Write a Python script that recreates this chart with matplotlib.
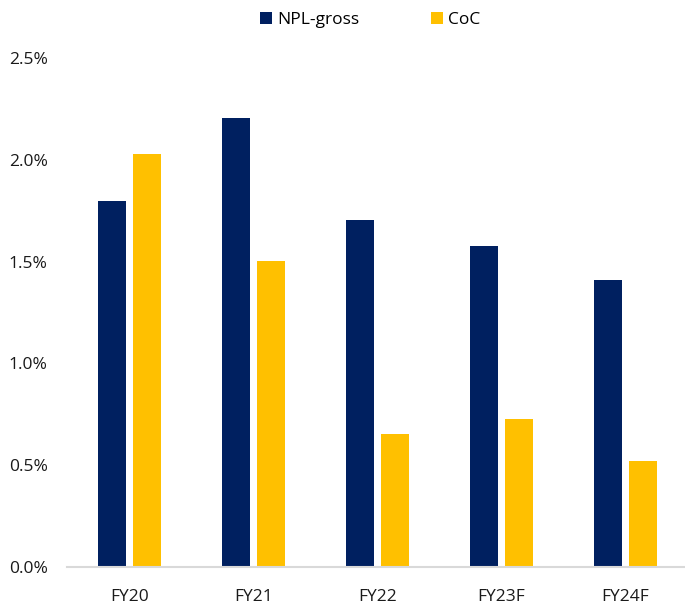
# bar chart: NPL-gross vs CoC by fiscal year
import numpy as np
import matplotlib.pyplot as plt

plt.rcParams["font.family"] = ["Open Sans", "DejaVu Sans"]

# data
years = ["FY20", "FY21", "FY22", "FY23F", "FY24F"]
npl_gross = [1.80, 2.205, 1.705, 1.575, 1.41]
coc = [2.03, 1.505, 0.655, 0.725, 0.52]
y_ticks = [0.0, 0.5, 1.0, 1.5, 2.0, 2.5]

navy = "#002060"
yellow = "#FFC000"

fig = plt.figure(figsize=(6.85, 6.06), dpi=100)
ax = fig.add_axes([0.0978, 0.0644, 0.9022, 0.8396])

x = np.arange(len(years))
w = 0.226
off = 0.141
ax.bar(x - off, npl_gross, width=w, color=navy, label="NPL-gross")
ax.bar(x + off, coc, width=w, color=yellow, label="CoC")

ax.set_xlim(-0.503, 4.48)
ax.set_ylim(0, 2.5)
ax.set_yticks(y_ticks)
ax.set_yticklabels([f"{v:.1f}%" for v in y_ticks])
ax.set_xticks(x)
ax.set_xticklabels(years)
ax.tick_params(axis="y", length=0, pad=14, labelsize=12.5, colors="#1a1a1a")
ax.tick_params(axis="x", length=0, pad=16, labelsize=12.5, colors="#1a1a1a")

for s in ["top", "right", "left"]:
    ax.spines[s].set_visible(False)
ax.spines["bottom"].set_color("#D9D9D9")
ax.spines["bottom"].set_linewidth(1.5)

fig.legend(loc="center", bbox_to_anchor=(370 / 685, 1 - 20 / 606), ncol=2,
           frameon=False, fontsize=12.5, handlelength=0.69, handleheight=0.69,
           handletextpad=0.3, columnspacing=4.1)

plt.savefig("out.png", dpi=100)
